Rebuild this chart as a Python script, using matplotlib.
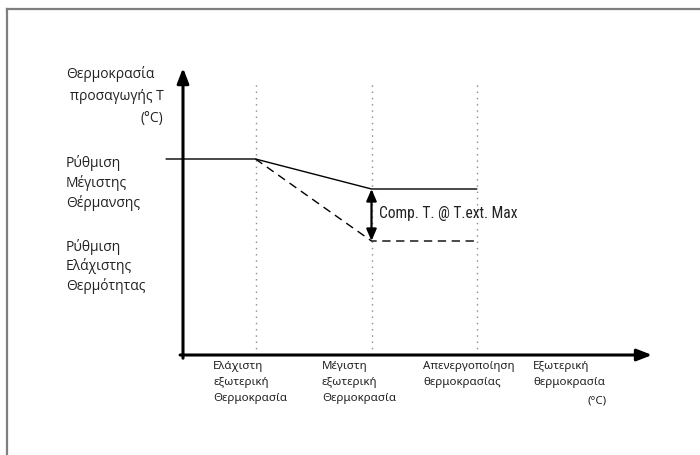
import matplotlib.pyplot as plt
from matplotlib import font_manager

# outdoor temperature break points (schematic units along the x axis)
t_ext_min = 1.0
t_ext_max = 2.6
t_ext_off = 4.05
x_line_start = -0.23
x_axis_end = 6.47

# supply temperature levels (schematic units along the y axis)
t_max_heat = 49.0
t_comp = 41.5
t_min_heat = 28.5
y_axis_end = 71.75
y_guide_top = 68.75

curve_x = [x_line_start, t_ext_min, t_ext_max, t_ext_off]
curve_y = [t_max_heat, t_max_heat, t_comp, t_comp]
comp_x = [t_ext_min, t_ext_max, t_ext_off]
comp_y = [t_max_heat, t_min_heat, t_min_heat]
guides = [t_ext_min, t_ext_max, t_ext_off]

y_title = ['Θερμοκρασία', 'προσαγωγής Τ', '(°C)']
max_label = 'Ρύθμιση\nΜέγιστης\nΘέρμανσης'
min_label = 'Ρύθμιση\nΕλάχιστης\nΘερμότητας'
x_labels = ['Ελάχιστη\nεξωτερική\nΘερμοκρασία',
            'Μέγιστη\nεξωτερική\nΘερμοκρασία',
            'Απενεργοποίηση\nθερμοκρασίας']
x_title = 'Εξωτερική\nθερμοκρασία'
comp_label = 'Comp. T. @ T.ext. Max'

# pick a narrow face for the compensation label if one is installed
fonts = font_manager.fontManager.ttflist
names = {f.name for f in fonts}
narrow = dict(family='DejaVu Sans', fontsize=9)
for cand in ['Liberation Sans Narrow', 'Roboto Condensed', 'Open Sans Condensed']:
    if cand in names:
        narrow = dict(family=cand, fontsize=11.2)
        break
else:
    if any(f.name == 'DejaVu Sans' and f.stretch == 'condensed' for f in fonts):
        narrow = dict(family='DejaVu Sans', stretch='condensed', fontsize=10)
    elif 'Roboto' in names:
        narrow = dict(family='Roboto', fontsize=10)

fig = plt.figure(figsize=(7, 4.55), dpi=100)
ax = fig.add_axes([0, 0, 1, 1])
ax.set_xlim(-183 / 72.5, (700 - 183) / 72.5)
ax.set_ylim(-25, 88.75)
ax.axis('off')

# page frame (top and left edges)
fig.add_artist(plt.Line2D([0.0107, 1], [1 - 8.5 / 455, 1 - 8.5 / 455], color='#7f7f7f', lw=1.6))
fig.add_artist(plt.Line2D([0.0107, 0.0107], [0, 1 - 8.5 / 455], color='#7f7f7f', lw=1.6))

# dotted guides
for g in guides:
    ax.plot([g, g], [0, y_guide_top], color='#8c8c8c', lw=1.0, ls=(0, (1, 3.5)))

# axes with arrow heads
ax.annotate('', xy=(0, y_axis_end), xytext=(0, -0.8),
            arrowprops=dict(arrowstyle='-|>,head_length=0.9,head_width=0.35', color='black', lw=2.2,
                            shrinkA=0, shrinkB=0))
ax.annotate('', xy=(x_axis_end, 0), xytext=(-0.04, 0),
            arrowprops=dict(arrowstyle='-|>,head_length=0.9,head_width=0.35', color='black', lw=2.2,
                            shrinkA=0, shrinkB=0))

# heating curves
ax.plot(curve_x, curve_y, color='black', lw=1.0)
ax.plot(comp_x, comp_y, color='black', lw=1.0, ls=(0, (6, 4)))

# compensation span
ax.annotate('', xy=(t_ext_max, t_min_heat), xytext=(t_ext_max, t_comp),
            arrowprops=dict(arrowstyle='<|-|>,head_length=0.7,head_width=0.3', color='black', lw=1.6,
                            shrinkA=0, shrinkB=0))
ax.text(t_ext_max + 0.11, (t_comp + t_min_heat) / 2 + 0.3, comp_label,
        va='center', ha='left', color='#222222', **narrow)

lab = dict(family=['Open Sans', 'DejaVu Sans'], fontsize=10, color='#222222')
ax.text(-1.613, 70.3, y_title[0], ha='left', va='center', **lab)
ax.text(-0.27, 64.6, y_title[1], ha='right', va='center', **lab)
ax.text(-0.27, 59.2, y_title[2], ha='right', va='center', **lab)
ax.text(-1.613, t_max_heat + 0.9, max_label, ha='left', va='top', linespacing=1.3, **lab)
ax.text(-1.613, t_min_heat + 0.6, min_label, ha='left', va='top', linespacing=1.3, **lab)

xl = dict(family=['Noto Sans', 'DejaVu Sans'], fontsize=8.3, color='#222222', linespacing=1.6)
for x0, s in zip([0.414, 1.917, 3.31], x_labels):
    ax.text(x0, -1.6, s, ha='left', va='top', **xl)
ax.text(4.83, -1.6, x_title, ha='left', va='top', **xl)
ax.text(5.85, -10.2, '(°C)', ha='right', va='top', **xl)

fig.savefig('out.png', dpi=100)
